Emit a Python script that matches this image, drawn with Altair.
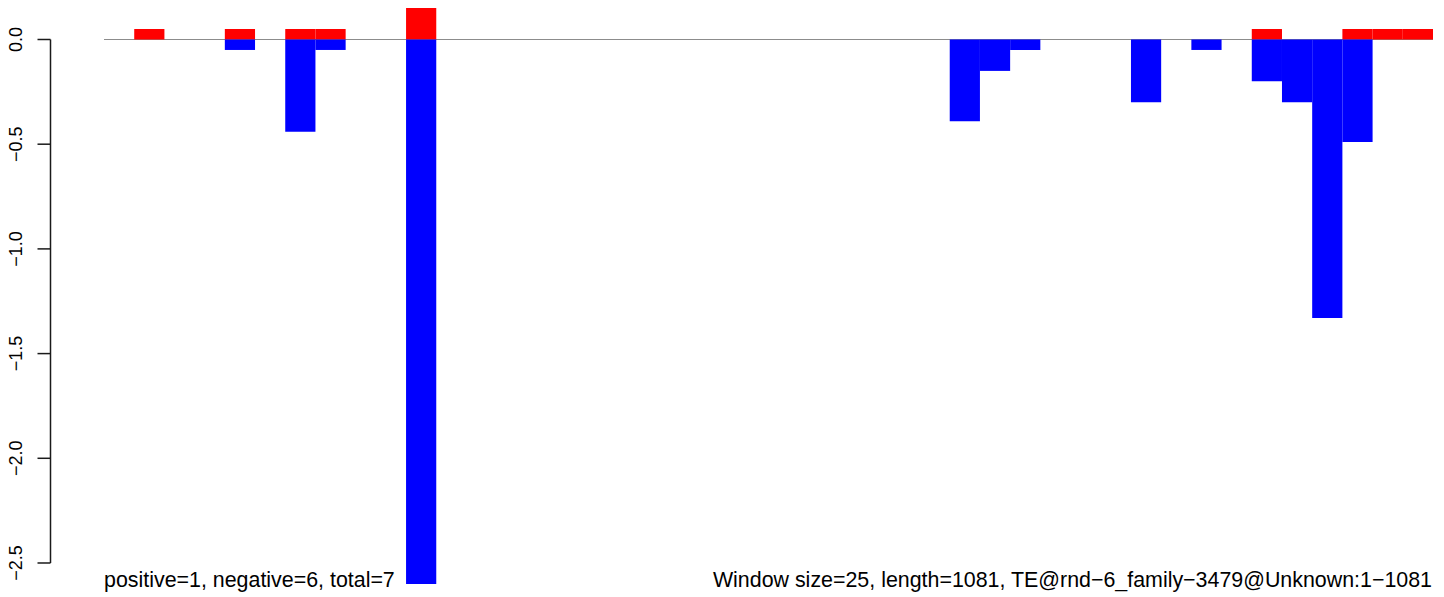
import altair as alt
import pandas as pd

# ---- data ----
n_windows = 44
pos_windows = [1, 4, 6, 7, 10, 38, 41, 42, 43]
pos_values = [0.05, 0.05, 0.05, 0.05, 0.5, 0.05, 0.05, 0.05, 0.05]
neg_windows = [4, 6, 7, 10, 28, 29, 30, 34, 36, 38, 39, 40, 41]
neg_values = [-0.05, -0.44, -0.05, -2.6, -0.39, -0.15, -0.05, -0.30, -0.05, -0.20, -0.30, -1.33, -0.49]
y_ticks = [-2.5, -2.0, -1.5, -1.0, -0.5, 0.0]
y_tick_labels = ["\u22122.5", "\u22122.0", "\u22121.5", "\u22121.0", "\u22120.5", "0.0"]
left_text = "positive=1, negative=6, total=7"
right_text = "Window size=25, length=1081, TE@rnd\u22126_family\u22123479@Unknown:1\u22121081"

FONT = "Liberation Sans"
W, H = 1425, 581          # plot area: page x 8..1433, y 8..589
x_domain = [-3.1788, n_windows]
y_domain = [-2.6242, 0.1504]
AXIS_COLOR = "#1a1a1a"

pos_df = pd.DataFrame({"w": pos_windows, "v": pos_values})
pos_df["w2"] = pos_df["w"] + 1
neg_df = pd.DataFrame({"w": neg_windows, "v": neg_values})
neg_df["w2"] = neg_df["w"] + 1

xs = alt.Scale(domain=x_domain, nice=False, zero=False)
ys = alt.Scale(domain=y_domain, nice=False, zero=False)

base_df = pd.DataFrame({"x": [0], "x2": [n_windows], "y": [0.0]})
baseline = alt.Chart(base_df).mark_rule(color="#8c8c8c", strokeWidth=1.2).encode(
    x=alt.X("x:Q", scale=xs, axis=None), x2="x2:Q",
    y=alt.Y("y:Q", scale=ys, axis=None),
)
red = alt.Chart(pos_df).mark_rect(color="#FF0000", clip=True).encode(
    x=alt.X("w:Q", scale=xs, axis=None), x2="w2:Q",
    y=alt.Y("v:Q", scale=ys, axis=None), y2=alt.datum(0),
)
blue = alt.Chart(neg_df).mark_rect(color="#0000FF", clip=True).encode(
    x=alt.X("w:Q", scale=xs, axis=None), x2="w2:Q",
    y=alt.Y("v:Q", scale=ys, axis=None), y2=alt.datum(0),
)

# y axis line (from the lowest to the highest tick) and tick marks, on the y scale
axis_df = pd.DataFrame({"a": [y_ticks[0]], "b": [y_ticks[-1]]})
axis_line = alt.Chart(axis_df).mark_rule(color=AXIS_COLOR, strokeWidth=1.5).encode(
    x=alt.value(42.5), y=alt.Y("a:Q", scale=ys, axis=None), y2="b:Q",
)
tick_df = pd.DataFrame({"t": y_ticks, "lab": y_tick_labels})
ticks = alt.Chart(tick_df).mark_rule(color=AXIS_COLOR, strokeWidth=1.5).encode(
    x=alt.value(29.5), x2=alt.value(42.5), y=alt.Y("t:Q", scale=ys, axis=None),
)
tick_labels = alt.Chart(tick_df).mark_text(
    angle=270, align="center", baseline="alphabetic", font=FONT, fontSize=18,
    color="black",
).encode(x=alt.value(14), y=alt.Y("t:Q", scale=ys, axis=None), text="lab:N")

txt_df = pd.DataFrame({"t": [left_text]})
left = alt.Chart(txt_df).mark_text(
    align="left", baseline="alphabetic", font=FONT, fontSize=21.4, color="black"
).encode(x=alt.value(96), y=alt.value(579), text="t:N")
txt_df2 = pd.DataFrame({"t": [right_text]})
right = alt.Chart(txt_df2).mark_text(
    align="right", baseline="alphabetic", font=FONT, fontSize=21.4, color="black"
).encode(x=alt.value(W - 1), y=alt.value(579), text="t:N")

chart = alt.layer(baseline, red, blue, axis_line, ticks, tick_labels, left, right).properties(
    width=W, height=H,
    autosize=alt.AutoSizeParams(type="none"),
    padding={"left": 0, "top": 0, "right": 3, "bottom": 8},
).configure_view(stroke=None)

chart.save("out.html", embed_options={"renderer": "svg", "actions": False})
